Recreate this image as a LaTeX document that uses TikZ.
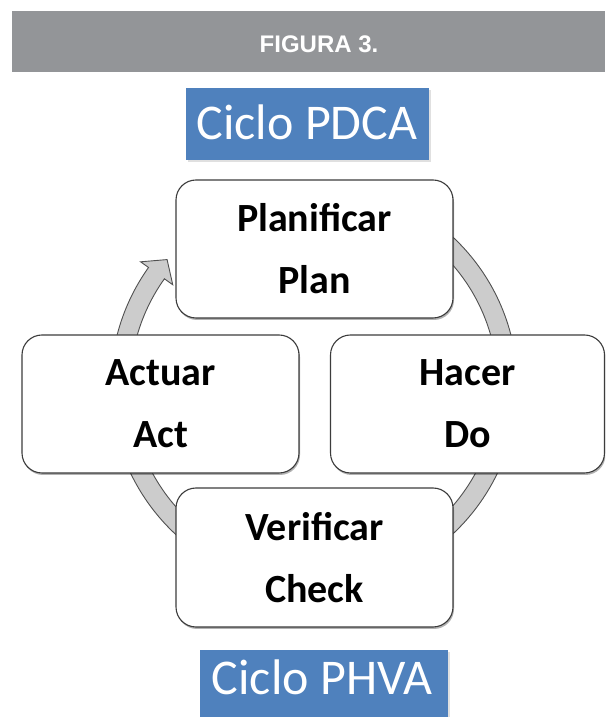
\documentclass[tikz,border=0pt]{standalone}
\usepackage{fontspec}
\setmainfont{Carlito}
\newfontfamily\figfont{Liberation Sans}
\usetikzlibrary{shadows}
\definecolor{bannergray}{RGB}{147,149,152}
\definecolor{officeblue}{RGB}{79,129,189}
\definecolor{ringfill}{RGB}{204,204,204}
\definecolor{ringline}{RGB}{80,80,80}
\definecolor{boxline}{RGB}{60,60,60}
\tikzset{
  stepbox/.style={draw=boxline, line width=1.1pt, fill=white, rounded corners=20pt,
    align=center, inner sep=0pt,
    font=\fontsize{40}{62}\selectfont\bfseries,
    drop shadow={shadow xshift=1pt, shadow yshift=-2pt, opacity=0.3, fill=black}},
  ringarrow/.style={fill=ringfill, draw=ringline, line width=0.9pt, line join=miter}
}
\begin{document}
\begin{tikzpicture}[x=1pt,y=1pt]
\useasboundingbox (0,0) rectangle (605,717);
\clip (0,0) rectangle (605,717);
\fill[white] (0,0) rectangle (605,717);

% banner
\fill[bannergray] (12,645) rectangle (605,706);
\node[text=white, font=\figfont\fontsize{24}{28}\selectfont\bfseries, anchor=base] (fig) at (319,664) {FIGURA 3.};

% title box
\fill[black!12] (188,555) rectangle (431,627);
\fill[officeblue] (186,557) rectangle (429,629);
\node[text=white, font=\fontsize{50}{60}\selectfont, anchor=base] (pdca) at (307,577) {Ciclo PDCA};

% ring arrow
\begin{scope}[shift={(314,331.5)}]
\path[ringarrow] (90:203.25pt) arc[start angle=90, end angle=-215.5, radius=203.25pt]
  -- (-215.5:213pt) -- (-220.6:193.5pt) -- (-215.5:173.5pt) -- (-215.5:183.75pt)
  arc[start angle=-215.5, end angle=90, radius=183.75pt] -- cycle;
\end{scope}

% boxes
\node[stepbox, minimum width=277pt, minimum height=138pt] (plan) at (314.5,468) {Planificar\\Plan};
\node[stepbox, minimum width=274pt, minimum height=138pt] (hacer) at (467.5,313) {Hacer\\Do};
\node[stepbox, minimum width=277pt, minimum height=138pt] (actuar) at (160.5,313) {Actuar\\Act};
\node[stepbox, minimum width=277pt, minimum height=139pt] (verif) at (314.5,159.5) {Verificar\\Check};

% bottom box
\fill[black!12] (202,-5) rectangle (450,65);
\fill[officeblue] (200,-5) rectangle (448,67);
\node[text=white, font=\fontsize{50}{60}\selectfont, anchor=base] (phva) at (322,23) {Ciclo PHVA};
\end{tikzpicture}
\end{document}
